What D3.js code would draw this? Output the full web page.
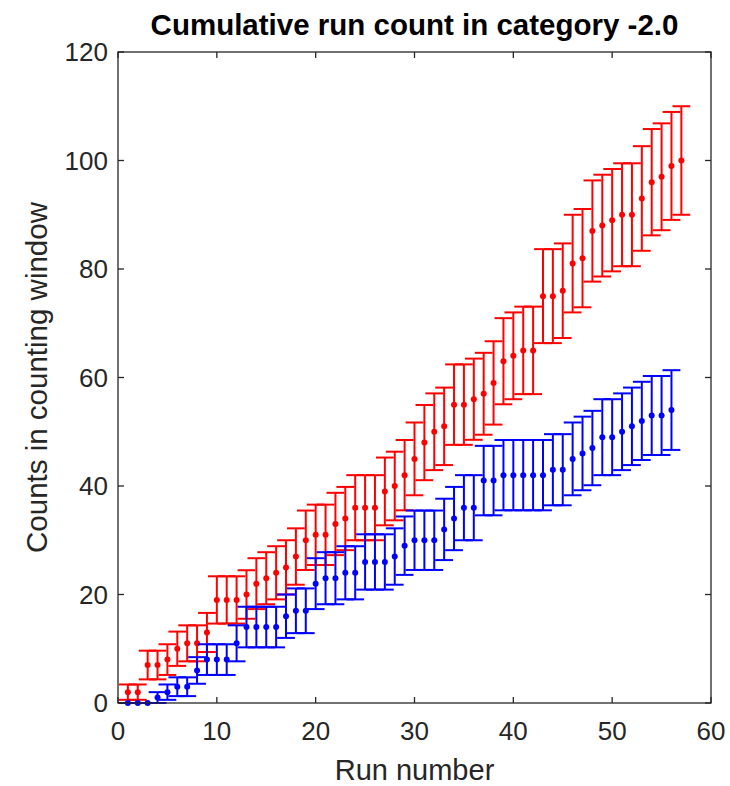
<!DOCTYPE html>
<html>
<head>
<meta charset="utf-8">
<script src="https://cdn.jsdelivr.net/npm/d3@7"></script>
<style>
  body { margin: 0; background: #fff; }
  text { font-family: "Liberation Sans", Arial, Helvetica, sans-serif; fill: #262626; }
</style>
</head>
<body>
<svg id="chart" width="730" height="786"></svg>
<script>
// Run numbers and cumulative counts for the two series
const runsRed = [1,2,3,4,5,6,7,8,9,10,11,12,13,14,15,16,17,18,19,20,21,22,23,24,25,26,27,28,29,30,
  31,32,33,34,35,36,37,38,39,40,41,42,43,44,45,46,47,48,49,50,51,52,53,54,55,56,57];
const countsRed = [2,2,7,7,8,10,11,11,13,19,19,19,20,22,23,24,25,27,30,31,31,33,34,36,36,36,39,40,42,45,
  48,50,51,55,55,56,57,59,63,64,65,65,75,75,76,81,82,87,88,89,90,90,93,96,97,99,100];

const runsBlue = [1,2,3,4,5,6,7,8,9,10,11,12,13,14,15,16,17,18,19,20,21,22,23,24,25,26,27,28,29,30,
  31,32,33,34,35,36,37,38,39,40,41,42,43,44,45,46,47,48,49,50,51,52,53,54,55,56];
const countsBlue = [0,0,0,1,2,3,3,6,8,8,8,11,14,14,14,14,16,17,17,22,23,23,24,24,26,26,26,27,29,30,
  30,30,32,34,36,36,41,41,42,42,42,42,42,43,43,45,46,47,49,49,50,51,52,53,53,54];

const xTicks = [0,10,20,30,40,50,60];
const yTicks = [0,20,40,60,80,100,120];

const titleText = "Cumulative run count in category -2.0";
const xLabelText = "Run number";
const yLabelText = "Counts in counting window";

// Layout
const margin = { left: 118, right: 19, top: 52, bottom: 83 };
const W = 730, H = 786;
const axisColor = "#262626";
const capHalf = 0.9;     // half-width of error bar caps, in run units
const tickLen = 6;

const svg = d3.select("#chart");

const x = d3.scaleLinear().domain([0, 60]).range([margin.left, W - margin.right]);
const y = d3.scaleLinear().domain([0, 120]).range([H - margin.bottom, margin.top]);

// Build series with Poisson (sqrt N) uncertainties
function makeSeries(runs, counts) {
  return runs.map((r, i) => ({ run: r, n: counts[i], err: Math.sqrt(counts[i]) }));
}
const series = [
  { color: "#ff0000", data: makeSeries(runsRed, countsRed) },
  { color: "#0000ff", data: makeSeries(runsBlue, countsBlue) }
];

const plot = svg.append("g");

series.forEach(s => {
  const g = plot.append("g").attr("stroke", s.color).attr("stroke-width", 2).attr("fill", "none");
  const pts = g.selectAll("g.pt").data(s.data).enter().append("g").attr("class", "pt");
  // vertical bar
  pts.append("line")
    .attr("x1", d => x(d.run)).attr("x2", d => x(d.run))
    .attr("y1", d => y(d.n - d.err)).attr("y2", d => y(d.n + d.err));
  // upper cap
  pts.append("line")
    .attr("x1", d => x(d.run - capHalf)).attr("x2", d => x(d.run + capHalf))
    .attr("y1", d => y(d.n + d.err)).attr("y2", d => y(d.n + d.err));
  // lower cap
  pts.append("line")
    .attr("x1", d => x(d.run - capHalf)).attr("x2", d => x(d.run + capHalf))
    .attr("y1", d => y(d.n - d.err)).attr("y2", d => y(d.n - d.err));
  // marker
  g.selectAll("circle").data(s.data).enter().append("circle")
    .attr("cx", d => x(d.run)).attr("cy", d => y(d.n))
    .attr("r", 3).attr("fill", s.color).attr("stroke", "none");
});

// Axes box with inward ticks on all four sides
const axes = svg.append("g");
const x0 = x.range()[0], x1 = x.range()[1];
const y0 = y.range()[0], y1 = y.range()[1];

axes.append("rect")
  .attr("x", x0).attr("y", y1).attr("width", x1 - x0).attr("height", y0 - y1)
  .attr("fill", "none").attr("stroke", axisColor).attr("stroke-width", 1.3);

xTicks.forEach(t => {
  axes.append("line").attr("x1", x(t)).attr("x2", x(t)).attr("y1", y0).attr("y2", y0 - tickLen)
    .attr("stroke", axisColor).attr("stroke-width", 1.3);
  axes.append("line").attr("x1", x(t)).attr("x2", x(t)).attr("y1", y1).attr("y2", y1 + tickLen)
    .attr("stroke", axisColor).attr("stroke-width", 1.3);
});
yTicks.forEach(t => {
  axes.append("line").attr("x1", x0).attr("x2", x0 + tickLen).attr("y1", y(t)).attr("y2", y(t))
    .attr("stroke", axisColor).attr("stroke-width", 1.3);
  axes.append("line").attr("x1", x1).attr("x2", x1 - tickLen).attr("y1", y(t)).attr("y2", y(t))
    .attr("stroke", axisColor).attr("stroke-width", 1.3);
});

// Tick labels
svg.append("g").selectAll("text").data(xTicks).enter().append("text")
  .attr("x", d => x(d)).attr("y", y0 + 37)
  .attr("text-anchor", "middle").attr("font-size", 26)
  .text(d => d);

svg.append("g").selectAll("text").data(yTicks).enter().append("text")
  .attr("x", x0 - 10).attr("y", d => y(d)).attr("dy", "0.36em")
  .attr("text-anchor", "end").attr("font-size", 26)
  .text(d => d);

// Title and axis labels
svg.append("text")
  .attr("x", (x0 + x1) / 2).attr("y", 35)
  .attr("text-anchor", "middle").attr("font-size", 29.5).attr("font-weight", "bold")
  .style("fill", "#000")
  .text(titleText);

svg.append("text")
  .attr("x", (x0 + x1) / 2).attr("y", 780)
  .attr("text-anchor", "middle").attr("font-size", 29)
  .text(xLabelText);

svg.append("text")
  .attr("transform", `translate(47, ${(y0 + y1) / 2}) rotate(-90)`)
  .attr("text-anchor", "middle").attr("font-size", 29.5)
  .text(yLabelText);
</script>
</body>
</html>
